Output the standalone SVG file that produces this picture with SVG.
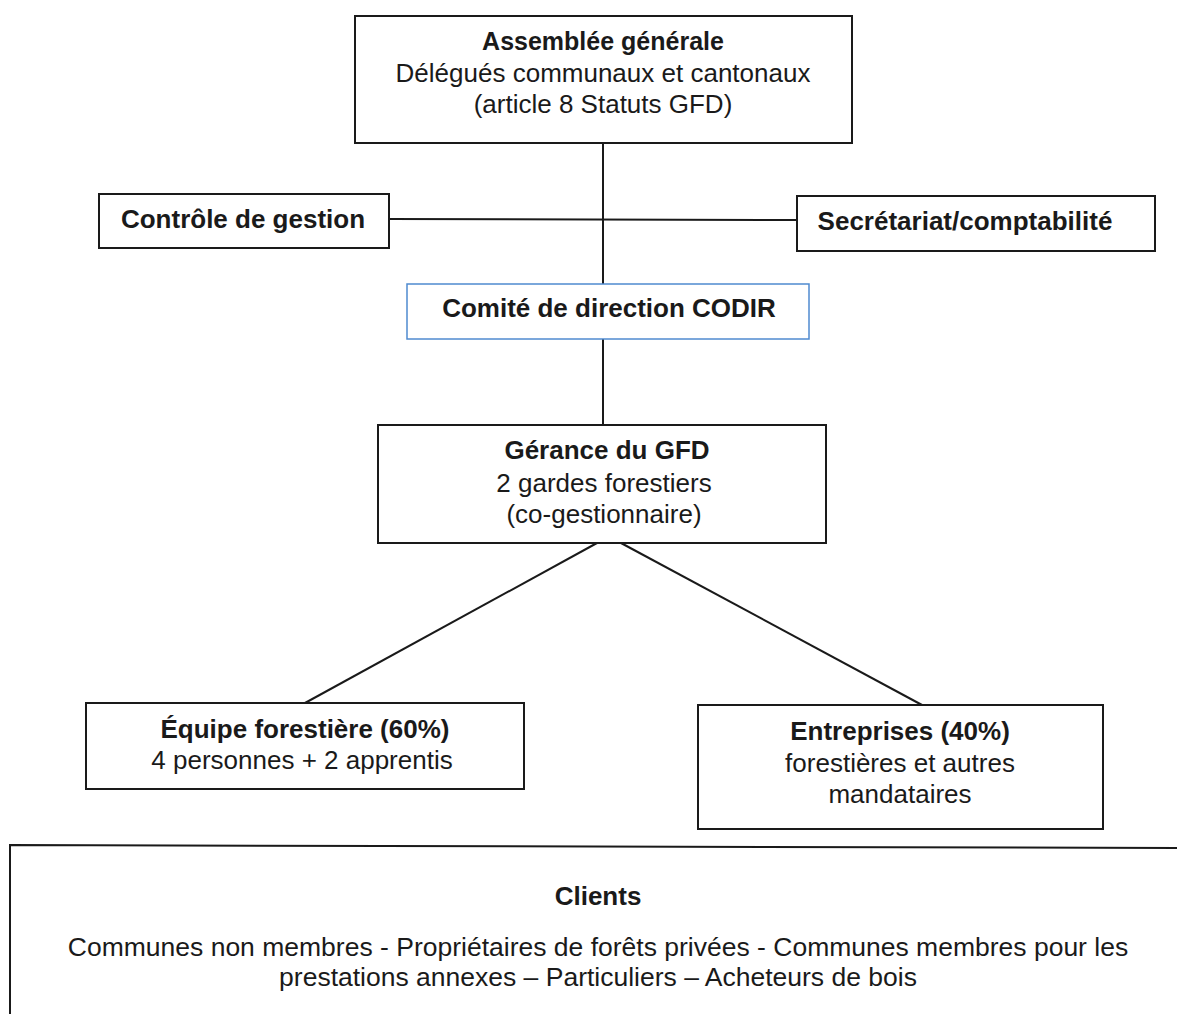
<svg xmlns="http://www.w3.org/2000/svg" width="1177" height="1014" viewBox="0 0 1177 1014">
<style>
.box{fill:#fff;stroke:#1a1a1a;stroke-width:2}
.blue{fill:#fff;stroke:#4f8ad0;stroke-width:1.5}
.conn{stroke:#1a1a1a;stroke-width:2;fill:none}
text{font-family:"Liberation Sans",Arial,sans-serif;font-size:26px;fill:#1a1a1a;text-anchor:middle}
.b{font-weight:bold}
.cl{font-size:26.5px}
</style>
<rect width="1177" height="1014" fill="#fff"/>
<g id="connectors">
<line class="conn" x1="603" y1="143" x2="603" y2="284"/>
<line class="conn" x1="389" y1="219" x2="797" y2="220"/>
<line class="conn" x1="603" y1="339" x2="603" y2="425"/>
<line class="conn" x1="597" y1="543" x2="305" y2="703"/>
<line class="conn" x1="621" y1="543" x2="922" y2="705"/>
</g>
<g id="assemblee">
<rect class="box" x="355" y="16" width="497" height="127"/>
<text class="b" x="603" y="50" style="font-size:25px">Assemblée générale</text>
<text x="603" y="82">Délégués communaux et cantonaux</text>
<text x="603" y="113">(article 8 Statuts GFD)</text>
</g>
<g id="controle">
<rect class="box" x="99" y="194" width="290" height="54"/>
<text class="b" x="243" y="228">Contrôle de gestion</text>
</g>
<g id="secretariat">
<rect class="box" x="797" y="196" width="358" height="55"/>
<text class="b" x="965" y="230">Secrétariat/comptabilité</text>
</g>
<g id="codir">
<rect class="blue" x="407" y="284" width="402" height="55"/>
<text class="b" x="609" y="317">Comité de direction CODIR</text>
</g>
<g id="gerance">
<rect class="box" x="378" y="425" width="448" height="118"/>
<text class="b" x="607" y="459">Gérance du GFD</text>
<text x="604" y="492">2 gardes forestiers</text>
<text x="604" y="523">(co-gestionnaire)</text>
</g>
<g id="equipe">
<rect class="box" x="86" y="703" width="438" height="86"/>
<text class="b" x="305" y="738">Équipe forestière (60%)</text>
<text x="302" y="769">4 personnes + 2 apprentis</text>
</g>
<g id="entreprises">
<rect class="box" x="698" y="705" width="405" height="124"/>
<text class="b" x="900" y="740">Entreprises (40%)</text>
<text x="900" y="772">forestières et autres</text>
<text x="900" y="803">mandataires</text>
</g>
<g id="clients">
<path class="conn" d="M10,1014 L10,845 L1177,848"/>
<text class="b" x="598" y="905">Clients</text>
<text class="cl" x="598" y="956">Communes non membres - Propriétaires de forêts privées - Communes membres pour les</text>
<text class="cl" x="598" y="986">prestations annexes – Particuliers – Acheteurs de bois</text>
</g>
</svg>
